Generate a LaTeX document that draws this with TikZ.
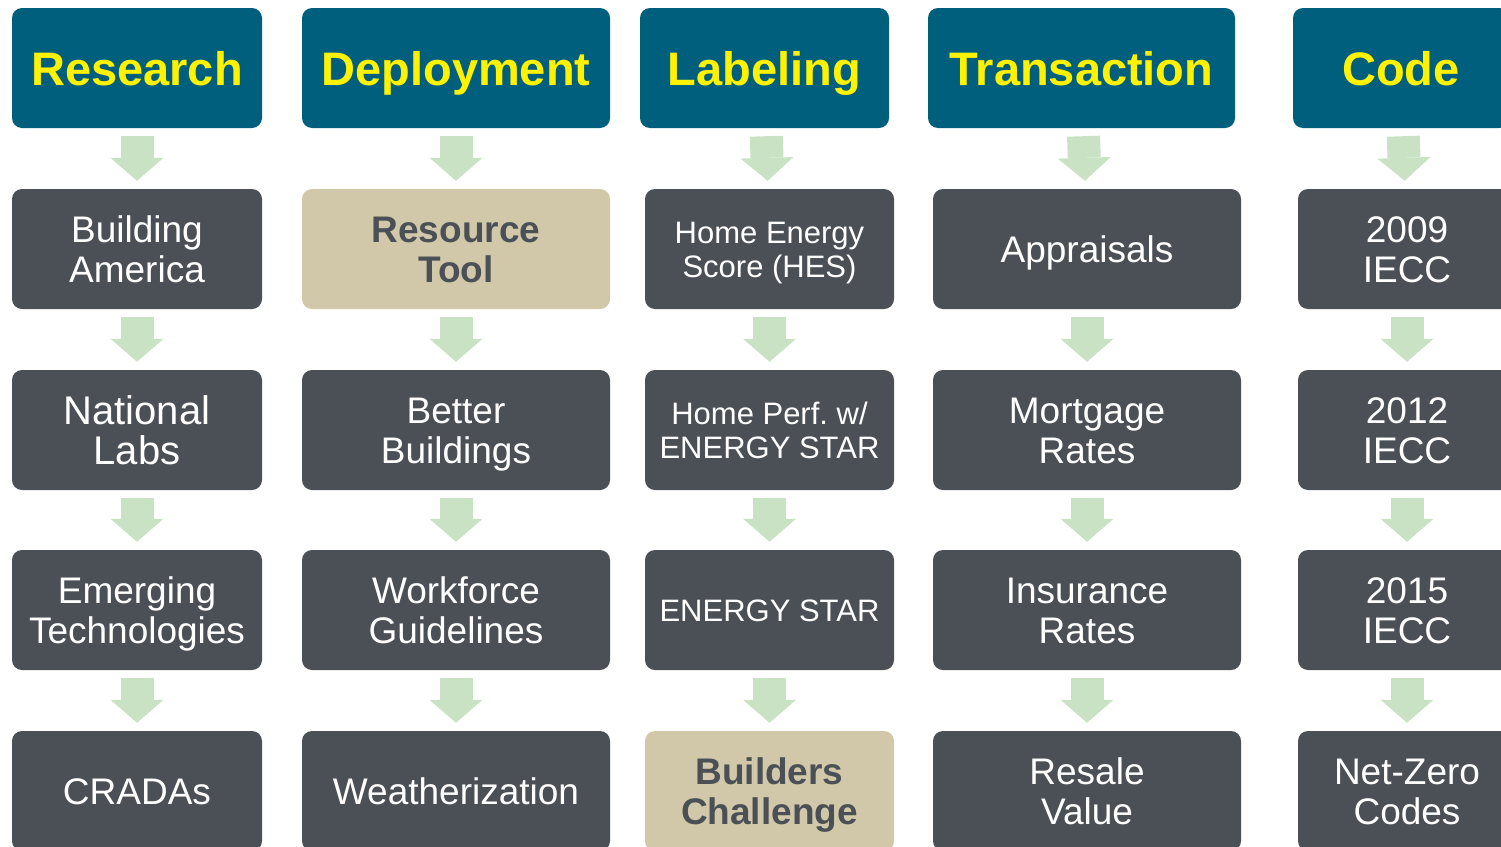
\documentclass[tikz,border=0pt]{standalone}
\usepackage{fontspec}
\setmainfont{Liberation Sans}
\usepackage{xcolor}
\usepackage{tikz}
\usetikzlibrary{positioning,arrows.meta}
\definecolor{headteal}{RGB}{0,95,125}
\definecolor{boxgray}{RGB}{75,79,86}
\definecolor{boxtan}{RGB}{208,200,168}
\definecolor{flowgreen}{RGB}{200,226,195}

\begin{document}
\begin{tikzpicture}[x=1pt,y=-1pt,minimum height=120pt,inner sep=0pt,
	hdr/.style={rectangle,rounded corners=10pt,fill=headteal,text=yellow,text height=40pt,text depth=6pt,font=\fontsize{47}{52}\selectfont\bfseries},
	box/.style={rectangle,rounded corners=10pt,fill=boxgray,text=white,align=center,text height=67pt,text depth=0pt,font=\fontsize{37}{40.5}\selectfont},
	single/.style={text height=30pt,text depth=3.5pt},
	small/.style={text height=56.2pt,text depth=0pt,font=\fontsize{31}{34}\selectfont},
	smallsingle/.style={text height=25pt,text depth=2.8pt,font=\fontsize{31}{34}\selectfont},
	large/.style={text height=68.6pt,text depth=0pt,font=\fontsize{40}{40}\selectfont},
	tan/.style={fill=boxtan,text=boxgray,font=\fontsize{37}{40.5}\selectfont\bfseries},
	flow/.style={draw=flowgreen,line width=33pt,shorten <=8pt,shorten >=8pt,-{Triangle[length=23pt,width=53pt,line width=0pt]}}]
	\useasboundingbox (0,0) rectangle (1501,846);
	\clip (0,0) rectangle (1501,846);

	\node[hdr,minimum width=250pt] (research) at(137,68) {Research};
	\node[hdr,minimum width=308pt] (deploy) at(456,68) {Deployment};
	\node[hdr,minimum width=249pt] (label) at(764.5,68) {Labeling};
	\node[hdr,minimum width=307pt] (trans) at(1081.5,68) {Transaction};
	\node[hdr,minimum width=216pt] (code) at(1401,68) {Code};

	\node[box,minimum width=250pt] (buildam) at(137,249) {Building\\America};
	\node[box,large,minimum width=250pt] (natlabs) at(137,430) {National\\Labs};
	\node[box,minimum width=250pt] (emerg) at(137,610) {Emerging\\Technologies};
	\node[box,single,minimum width=250pt] (cradas) at(137,791) {CRADAs};

	\node[box,tan,minimum width=308pt] (restool) at(456,249) {Resource\\Tool};
	\node[box,minimum width=308pt] (betbld) at(456,430) {Better\\Buildings};
	\node[box,minimum width=308pt] (workf) at(456,610) {Workforce\\Guidelines};
	\node[box,single,minimum width=308pt] (weath) at(456,791) {Weatherization};

	\node[box,small,minimum width=249pt] (hes) at(769.5,249) {Home Energy\\Score (HES)};
	\node[box,small,minimum width=249pt] (hpwes) at(769.5,430) {Home Perf.\ w/\\ENERGY STAR};
	\node[box,smallsingle,minimum width=249pt] (estar) at(769.5,610) {ENERGY STAR};
	\node[box,tan,minimum width=249pt] (bldch) at(769.5,791) {Builders\\Challenge};

	\node[box,single,minimum width=308pt] (apprs) at(1087,249) {Appraisals};
	\node[box,minimum width=308pt] (mortg) at(1087,430) {Mortgage\\Rates};
	\node[box,minimum width=308pt] (insur) at(1087,610) {Insurance\\Rates};
	\node[box,minimum width=308pt] (resale) at(1087,791) {Resale\\Value};

	\node[box,minimum width=218pt] (iecc09) at(1407,249) {2009\\IECC};
	\node[box,minimum width=218pt] (iecc12) at(1407,430) {2012\\IECC};
	\node[box,minimum width=218pt] (iecc15) at(1407,610) {2015\\IECC};
	\node[box,minimum width=218pt] (netzero) at(1407,791) {Net-Zero\\Codes};

	\draw[flow] (research) -- (buildam);
	\draw[flow] (buildam) -- (natlabs);
	\draw[flow] (natlabs) -- (emerg);
	\draw[flow] (emerg) -- (cradas);
	\draw[flow] (deploy) -- (restool);
	\draw[flow] (restool) -- (betbld);
	\draw[flow] (betbld) -- (workf);
	\draw[flow] (workf) -- (weath);
	\draw[flow] (label) -- (hes);
	\draw[flow] (hes) -- (hpwes);
	\draw[flow] (hpwes) -- (estar);
	\draw[flow] (estar) -- (bldch);
	\draw[flow] (trans) -- (apprs);
	\draw[flow] (apprs) -- (mortg);
	\draw[flow] (mortg) -- (insur);
	\draw[flow] (insur) -- (resale);
	\draw[flow] (code) -- (iecc09);
	\draw[flow] (iecc09) -- (iecc12);
	\draw[flow] (iecc12) -- (iecc15);
	\draw[flow] (iecc15) -- (netzero);
\end{tikzpicture}
\end{document}
